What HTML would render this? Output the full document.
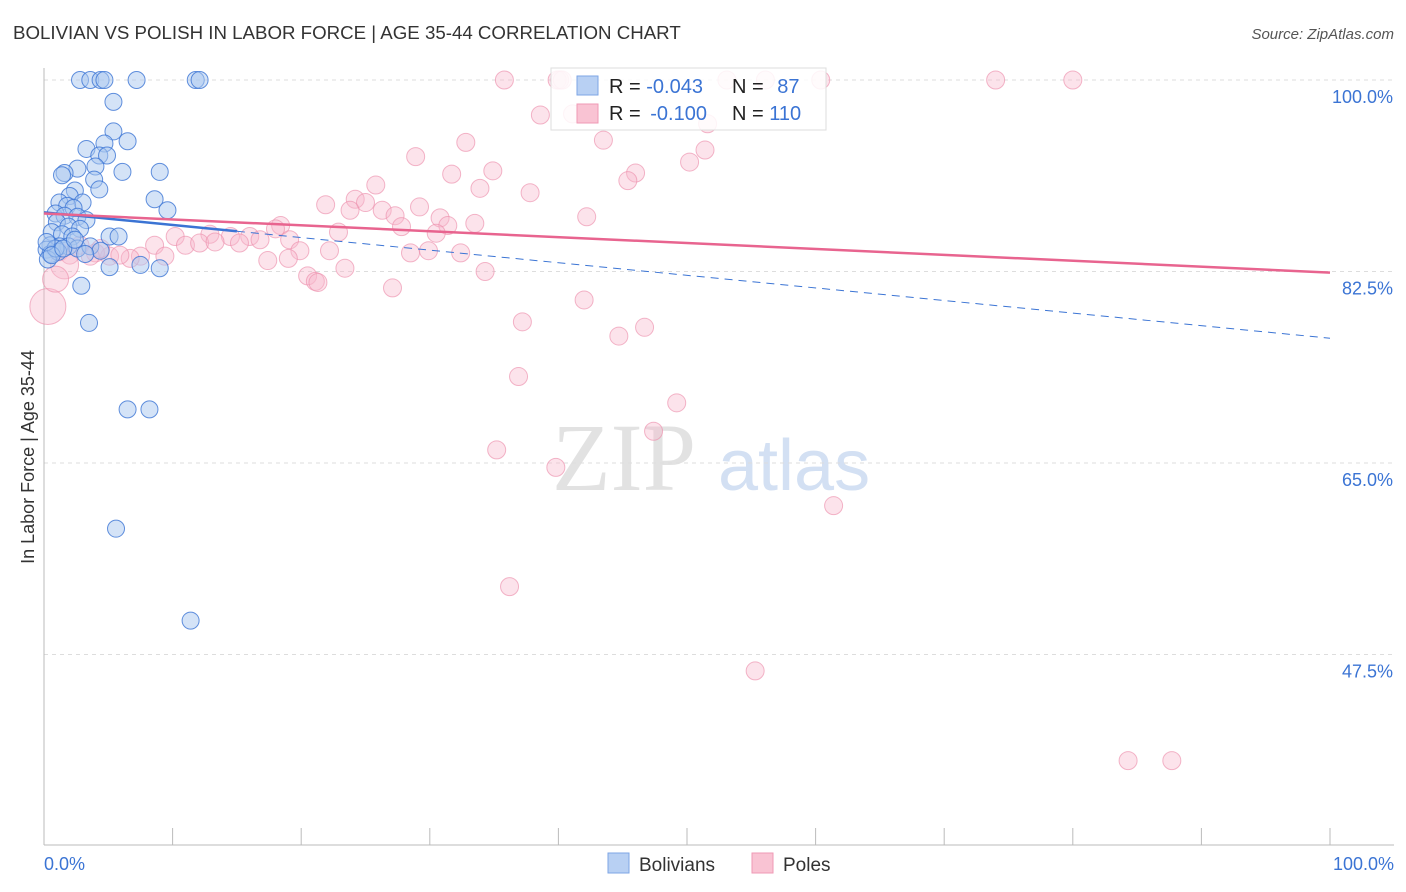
<!DOCTYPE html>
<html><head><meta charset="utf-8"><style>
body{margin:0;background:#fff;font-family:"Liberation Sans",sans-serif}
svg{display:block}
</style></head><body>
<svg id="c" width="1406" height="892">
<text x="13" y="39" font-size="18.7" fill="#333">BOLIVIAN VS POLISH IN LABOR FORCE | AGE 35-44 CORRELATION CHART</text>
<text x="1394" y="39" font-size="15" fill="#555" font-style="italic" text-anchor="end">Source: ZipAtlas.com</text>
<g>
<text x="552" y="490" font-size="96" font-family="Liberation Serif,serif" fill="#e2e2e2">ZIP</text>
<text x="718" y="490" font-size="72" fill="#d3e0f3">atlas</text>
</g>
<g id="grid"></g>
<g id="axes"></g>
<g id="pts"></g>
<g id="lines"></g>
<text transform="translate(34,457) rotate(-90)" font-size="18" fill="#333" text-anchor="middle">In Labor Force | Age 35-44</text>
<text x="44" y="870" font-size="18" fill="#3b74d4">0.0%</text>
<text x="1394" y="870" font-size="18" fill="#3b74d4" text-anchor="end">100.0%</text>
<g>
<rect x="551" y="68" width="275" height="62" fill="#fff" fill-opacity="0.85" stroke="#ddd"/>
<rect x="577" y="76" width="21" height="19" fill="#b8d0f3" stroke="#7ea6e6"/>
<rect x="577" y="104" width="21" height="19" fill="#f9c3d3" stroke="#ef9ab4"/>
<text x="609" y="93" font-size="20" fill="#222">R = <tspan fill="#3b74d4">-0.043</tspan></text>
<text x="732" y="93" font-size="20" fill="#222">N = <tspan fill="#3b74d4" dx="8">87</tspan></text>
<text x="609" y="120" font-size="20" fill="#222">R = <tspan fill="#3b74d4" dx="4">-0.100</tspan></text>
<text x="732" y="120" font-size="20" fill="#222">N = <tspan fill="#3b74d4">110</tspan></text>
</g>
<g>
<rect x="608" y="853" width="21" height="20" fill="#b8d0f3" stroke="#7ea6e6"/>
<text x="639" y="871" font-size="19" fill="#333">Bolivians</text>
<rect x="752" y="853" width="21" height="20" fill="#f9c3d3" stroke="#ef9ab4"/>
<text x="783" y="871" font-size="19" fill="#333">Poles</text>
</g>
</svg>
<script>
const yTicks=[100,82.5,65,47.5];
const yTickLabels=["100.0%","82.5%","65.0%","47.5%"];
const bolX=[2.8,3.6,4.4,4.7,7.2,11.8,12.1,5.4,5.4,4.7,6.5,3.3,4.3,4.9,2.6,4.0,1.6,1.4,6.1,9.0,3.9,2.4,4.3,2.0,8.6,3.0,9.6,1.2,1.8,2.3,0.9,1.6,2.6,3.3,1.0,1.9,2.8,0.6,1.4,2.2,0.5,0.9,1.2,0.2,1.9,2.6,3.6,4.4,5.1,5.8,0.5,1.1,0.3,3.2,9.0,5.1,7.5,2.9,3.5,6.5,8.2,5.6,11.4,0.9,0.2,0.6,1.5,2.4];
const bolY=[100,100,100,100,100,100,100,98.0,95.3,94.2,94.4,93.7,93.1,93.1,91.9,92.1,91.5,91.3,91.6,91.6,90.9,89.9,90.0,89.4,89.1,88.8,88.1,88.8,88.5,88.3,87.8,87.6,87.5,87.2,87.0,86.6,86.4,86.1,85.9,85.7,84.9,84.6,84.8,84.5,84.8,84.6,84.8,84.4,85.7,85.7,84.1,84.3,83.6,84.1,82.8,82.9,83.1,81.2,77.8,69.9,69.9,59.0,50.6,84.6,85.2,84.0,84.6,85.4];
const polX=[35.8,39.9,40.1,40.3,53.1,56.1,60.4,74.0,80.0,38.6,41.1,51.6,32.8,43.5,28.9,51.4,34.9,50.2,46.0,31.7,45.4,25.8,33.9,37.8,21.9,24.2,25.0,23.8,26.3,29.2,27.3,30.8,42.2,33.5,31.4,27.8,30.5,22.9,18.4,18.0,12.9,14.5,16.0,16.8,19.1,10.2,8.6,11.0,12.1,13.3,15.2,19.9,22.2,28.5,29.9,32.4,7.5,9.4,6.7,5.1,4.0,5.9,17.4,19.0,23.4,34.3,20.5,21.1,21.3,27.1,42.0,37.2,46.7,44.7,36.9,49.2,47.4,35.2,39.8,61.4,36.2,55.3,84.3,87.7,1.2,2.0,1.6,0.3,0.9,2.8,4.4,3.6];
const polY=[100,100,100,100,100,100,100,100,100,96.8,96.9,96.0,94.3,94.5,93.0,93.6,91.7,92.5,91.5,91.4,90.8,90.4,90.1,89.7,88.6,89.1,88.8,88.1,88.1,88.4,87.6,87.4,87.5,86.9,86.7,86.6,86.0,86.1,86.7,86.4,85.9,85.7,85.7,85.4,85.4,85.7,84.9,84.9,85.1,85.2,85.1,84.4,84.4,84.2,84.4,84.2,83.9,83.9,83.7,83.9,84.2,84.0,83.5,83.7,82.8,82.5,82.1,81.6,81.5,81.0,79.9,77.9,77.4,76.6,72.9,70.5,67.9,66.2,64.6,61.1,53.7,46.0,37.8,37.8,84.3,84.0,83.1,79.3,81.8,84.9,84.6,83.9];
const bolTrend=[87.9,76.4];
const polTrend=[87.8,82.4];
const ns='http://www.w3.org/2000/svg';
function X(p){return 44+p*12.86;}
function Y(v){return 80+(100-v)/17.5*191.5;}
function mk(t,a,parent){const e=document.createElementNS(ns,t);for(const k in a)e.setAttribute(k,a[k]);parent.appendChild(e);return e;}
const grid=document.getElementById('grid'),axes=document.getElementById('axes'),pts=document.getElementById('pts'),lines=document.getElementById('lines');
yTicks.forEach((t,i)=>{
 const l=mk('line',{x1:44,x2:1394,y1:Y(t),y2:Y(t),stroke:'#ddd','stroke-dasharray':'4,4'},grid);
 
 
 const tx=mk('text',{x:1393,y:Y(t)+23,'font-size':18,fill:'#3b74d4','text-anchor':'end'},axes);
 tx.textContent=yTickLabels[i];
 
 
});
const ya=mk('line',{x1:44,x2:44,y1:68,y2:845,stroke:'#bbb'},axes);


const xa=mk('line',{x1:44,x2:1394,y1:845,y2:845,stroke:'#bbb'},axes);


for(let i=0;i<=10;i++){
 const t=mk('line',{x1:X(i*10),x2:X(i*10),y1:828,y2:845,stroke:'#bbb'},axes);
 
 
}
polX.forEach((p,i)=>{
 let r=9; if(i==polX.length-5) r=18; if(i==polX.length-6) r=14; if(i==polX.length-4) r=13;
 const c=mk('circle',{cx:X(p),cy:Y(polY[i]),r:r,fill:'#f7b9cc','fill-opacity':0.4,stroke:'#ec8fac','stroke-opacity':0.65},pts);
 
 
});
bolX.forEach((p,i)=>{
 const c=mk('circle',{cx:X(p),cy:Y(bolY[i]),r:8.5,fill:'#a9c7f0','fill-opacity':0.5,stroke:'#3b74d4','stroke-opacity':0.8},pts);
 
 
});
const bs=Y(bolTrend[0]),be=Y(bolTrend[1]);
const b1=mk('line',{x1:X(0),y1:bs,x2:X(15),y2:bs+(be-bs)*0.15,stroke:'#3b74d4','stroke-width':2.5},lines);


const b2=mk('line',{x1:X(15),y1:bs+(be-bs)*0.15,x2:X(100),y2:be,stroke:'#3b74d4','stroke-width':1,'stroke-dasharray':'8,6'},lines);


const pl=mk('line',{x1:X(0),y1:Y(polTrend[0]),x2:X(100),y2:Y(polTrend[1]),stroke:'#e8648f','stroke-width':2.5},lines);


</script>
</body></html>
